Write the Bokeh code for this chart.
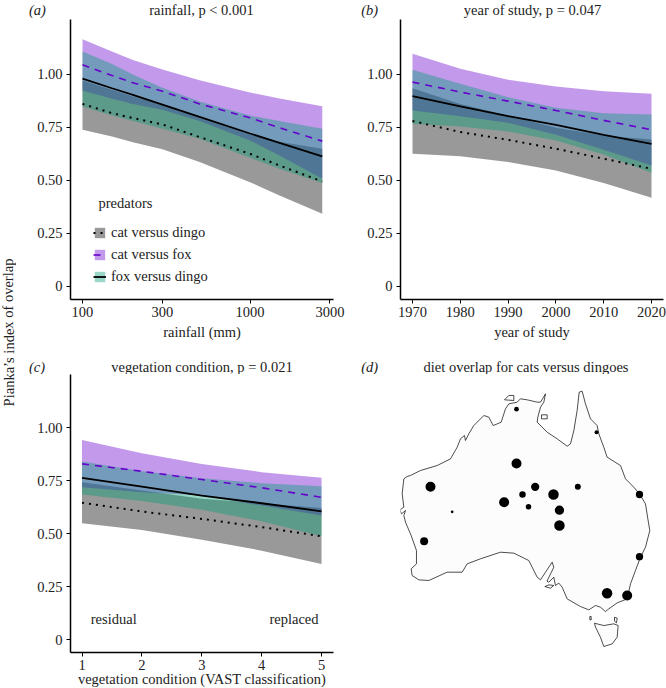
from bokeh.plotting import figure
from bokeh.layouts import row, column
from bokeh.models import Range1d, FixedTicker, Label, Legend, LegendItem, PrintfTickFormatter
from bokeh.core.properties import value
from bokeh.embed import file_html
from bokeh.resources import INLINE

FONT = "Liberation Serif"
FS = "14.5px"
GREY, PURPLE, GREEN = "#000000", "#6600CC", "#009E73"
series_names = ["cat versus dingo", "cat versus fox", "fox versus dingo"]
y_tick_values = [0, 0.25, 0.5, 0.75, 1.0]
y_tick_labels = ["0", "0.25", "0.50", "0.75", "1.00"]

# panel a
rain = [100, 150, 200, 300, 500, 1000, 1500, 2700]
rain_ticks = [100, 300, 1000, 3000]
a_dingo_lo = [.739, .707, .680, .646, .586, .491, .428, .342]
a_dingo_hi = [.972, .928, .896, .858, .803, .717, .682, .649]
a_dingo_mid = [.861, .817, .794, .764, .704, .625, .570, .494]
a_fox_lo = [.924, .885, .861, .833, .780, .688, .617, .507]
a_fox_hi = [1.167, 1.109, 1.069, 1.024, .973, .915, .887, .850]
a_fox_mid = [1.046, .995, .961, .921, .861, .795, .748, .685]
a_fd_lo = [.849, .806, .780, .743, .696, .606, .554, .487]
a_fd_hi = [1.109, 1.050, 1.000, .937, .872, .806, .780, .743]
a_fd_mid = [.980, .935, .904, .858, .800, .721, .677, .613]

# panel b
year = [1970, 1980, 1990, 2000, 2010, 2020]
year_ticks = [1970, 1980, 1990, 2000, 2010, 2020]
b_dingo_lo = [.625, .613, .586, .546, .487, .417]
b_dingo_hi = [.935, .861, .806, .748, .712, .693]
b_dingo_mid = [.780, .728, .691, .649, .602, .554]
b_fox_lo = [.830, .803, .772, .715, .644, .570]
b_fox_hi = [1.098, 1.027, .975, .943, .921, .909]
b_fox_mid = [.964, .917, .874, .830, .783, .739]
b_fd_lo = [.767, .754, .731, .688, .622, .535]
b_fd_hi = [1.022, .956, .893, .843, .817, .811]
b_fd_mid = [.898, .849, .803, .762, .715, .672]

# panel c
veg = [1, 2, 3, 4, 5]
c_dingo_lo = [.550, .518, .471, .420, .357]
c_dingo_hi = [.743, .704, .665, .644, .622]
c_dingo_mid = [.646, .605, .570, .531, .488]
c_fox_lo = [.720, .696, .680, .633, .586]
c_fox_hi = [.943, .880, .830, .791, .764]
c_fox_mid = [.830, .795, .756, .717, .672]
c_fd_lo = [.685, .654, .613, .559, .488]
c_fd_hi = [.841, .795, .762, .739, .724]
c_fd_mid = [.764, .723, .680, .644, .606]

# panel d: coast (lon, lat) and sites
main_lon = [113.85,114.39,114.92,116.54,119.23,121.39,122.47,123.0,123.65,123.81,124.35,125.16,126.78,127.59,128.29,128.93,129.58,130.28,130.82,132.17,132.7,133.78,135.4,135.94,136.75,136.48,135.94,135.51,135.4,137.02,138.63,140.25,140.79,141.33,141.86,142.19,142.67,143.21,144.02,145.09,145.37,146.17,146.71,148.87,149.68,151.02,151.94,152.91,153.29,153.61,152.91,152.1,151.29,150.49,149.95,148.33,146.98,146.44,145.63,144.83,143.75,142.4,140.25,139.44,138.9,138.36,138.09,137.28,136.98,138.09,137.82,136.75,135.94,135.4,134.05,131.63,129.47,126.24,124.08,123.28,120.85,117.89,116.27,115.19,115.03,115.89,115.89,115.03,114.12,113.85,114.12,113.47,113.2,113.85,113.58]
main_lat = [-22.07,-21.77,-21.64,-21.0,-20.36,-19.5,-18.0,-16.92,-16.49,-17.14,-16.28,-15.21,-13.92,-14.13,-15.21,-15.0,-14.78,-13.06,-12.42,-12.2,-11.77,-11.9,-12.2,-12.2,-11.13,-12.2,-12.85,-14.13,-14.78,-16.07,-16.92,-17.87,-17.57,-15.85,-13.28,-10.91,-10.79,-12.42,-14.35,-15.21,-16.28,-18.0,-19.28,-20.36,-22.07,-23.15,-24.0,-25.29,-27.22,-28.73,-30.87,-32.16,-33.88,-35.59,-37.53,-38.04,-38.81,-39.16,-38.6,-38.38,-38.94,-38.51,-37.53,-36.02,-35.5,-35.8,-34.73,-35.38,-35.25,-33.45,-32.8,-34.09,-35.08,-34.74,-32.59,-31.64,-31.52,-32.37,-33.02,-34.09,-34.09,-35.16,-35.08,-34.52,-33.66,-33.02,-31.3,-29.37,-27.65,-26.8,-26.15,-26.58,-26.07,-25.72,-24.0]
tas_lon = [144.67,146.17,147.79,148.49,148.33,147.52,146.17,145.63,144.83]
tas_lat = [-40.66,-40.96,-40.74,-40.96,-42.46,-43.32,-43.66,-42.46,-41.17]
kangaroo_lon, kangaroo_lat = [136.64,137.28,138.09,137.55], [-35.94,-35.72,-35.8,-36.15]
king_lon, king_lat = [143.91,144.13,144.13,143.91], [-39.8,-39.8,-40.23,-40.23]
flinders_lon, flinders_lat = [147.9,148.33,148.22,147.9], [-39.89,-40.01,-40.62,-40.4]
tiwi_lon, tiwi_lat = [130.12,130.82,131.63,131.63], [-11.9,-11.34,-11.34,-11.99]
groote_lon, groote_lat = [136.1,137.02,137.02,136.1], [-13.83,-13.83,-14.35,-14.35]
site_lon = [132.06,145.0,132.06,118.16,135.08,141.97,133.03,138.04,151.94,130.06,134.0,121.66,139.0,139.0,117.13,151.94,146.7,149.95]
site_lat = [-13.1,-16.06,-20.1,-23.1,-23.1,-23.1,-24.09,-24.09,-24.09,-25.08,-25.68,-26.32,-26.11,-28.08,-30.1,-32.1,-36.8,-37.1]
site_overlap = [.47,.40,1.0,1.0,.83,.60,.65,1.05,.73,1.0,.55,.27,.93,1.05,.80,.73,1.05,1.0]


def put_text(p, text, x, y, align="center", style="normal", angle=0):
    """x, y are offsets from the frame's lower-left corner, in pixels."""
    p.add_layout(Label(x=x, y=y, x_units="screen", y_units="screen",
                       text=text, text_font=FONT, text_font_size=FS, text_font_style=style,
                       text_align=align, text_baseline="middle", text_color="#222222", angle=angle))


def blank(width, height):
    b = figure(width=width, height=height, x_range=(0, 1), y_range=(0, 1), min_border=0,
               x_axis_location=None, y_axis_location=None, output_backend="svg",
               toolbar_location=None, outline_line_color=None)
    b.grid.visible = False
    return b


def panel(width, height, left, right, top, bottom, x_range, y_range, xlabel, xticks, **kw):
    p = figure(width=width, height=height, min_border_left=left, min_border_right=right,
               min_border_top=top, min_border_bottom=bottom,
               x_range=x_range, y_range=y_range, output_backend="svg", toolbar_location=None,
               background_fill_color="white", border_fill_color="white", outline_line_color=None, **kw)
    p.grid.visible = False
    p.yaxis.ticker = FixedTicker(ticks=y_tick_values)
    p.yaxis.major_label_overrides = dict(zip(y_tick_values, y_tick_labels))
    p.xaxis.ticker = FixedTicker(ticks=xticks)
    p.xaxis.formatter = PrintfTickFormatter(format="%d")
    p.xaxis.axis_label = xlabel
    for ax in (p.xaxis[0], p.yaxis[0]):
        ax.axis_line_width = 1.5
        ax.axis_line_color = "black"
        ax.major_tick_line_color = "black"
        ax.major_tick_line_width = 1
        ax.major_tick_in = 0
        ax.major_tick_out = 4
        ax.minor_tick_line_color = None
        ax.major_label_text_font = FONT
        ax.major_label_text_font_size = FS
        ax.major_label_text_color = "#222222"
        ax.axis_label_text_font = FONT
        ax.axis_label_text_font_size = FS
        ax.axis_label_text_font_style = "normal"
        ax.axis_label_text_color = "#222222"
    p.xaxis.major_label_standoff = 3
    p.xaxis.axis_label_standoff = 4
    p.yaxis.major_label_standoff = 4
    return p


def bands(p, x, d_lo, d_hi, d_mid, f_lo, f_hi, f_mid, g_lo, g_hi, g_mid):
    r1 = p.varea(x=x, y1=d_lo, y2=d_hi, fill_color=GREY, fill_alpha=0.4)
    r2 = p.varea(x=x, y1=f_lo, y2=f_hi, fill_color=PURPLE, fill_alpha=0.4)
    r3 = p.varea(x=x, y1=g_lo, y2=g_hi, fill_color=GREEN, fill_alpha=0.4)
    l1 = p.line(x, d_mid, line_color="black", line_width=2, line_dash="2 5")
    l2 = p.line(x, f_mid, line_color=PURPLE, line_width=1.6, line_dash="7 6")
    l3 = p.line(x, g_mid, line_color="black", line_width=1.8)
    return [[r1, l1], [r2, l2], [r3, l3]]


# y label strip
strip = blank(16, 692)
put_text(strip, "Pianka\u2019s index of overlap", 8, 356, angle=1.5708)

# header strips holding panel titles
head_top = blank(650, 19)
put_text(head_top, "(a)", 12.5, 10, align="left", style="italic")
put_text(head_top, "rainfall, p < 0.001", 185, 10)
put_text(head_top, "(b)", 344.7, 10, align="left", style="italic")
put_text(head_top, "year of study, p = 0.047", 516, 10)
head_mid = blank(650, 29)
put_text(head_mid, "(c)", 12.5, 7.5, align="left", style="italic")
put_text(head_mid, "vegetation condition, p = 0.021", 185.5, 7.5)
put_text(head_mid, "(d)", 344.7, 7.5, align="left", style="italic")
put_text(head_mid, "diet overlap for cats versus dingoes", 509.5, 7.5)

# (a)
pa = panel(329, 326, 54, 12, 0, 46, Range1d(84.8, 3151), Range1d(-0.0638, 1.26),
           "rainfall (mm)", rain_ticks, x_axis_type="log")
items = bands(pa, rain, a_dingo_lo, a_dingo_hi, a_dingo_mid, a_fox_lo, a_fox_hi, a_fox_mid,
              a_fd_lo, a_fd_hi, a_fd_mid)
legend = Legend(items=[LegendItem(label=n, renderers=r) for n, r in zip(series_names, items)],
                location=(23, 14), orientation="vertical", glyph_width=13, glyph_height=13,
                spacing=5, padding=0, margin=0, background_fill_alpha=0, border_line_color=None,
                label_text_font=FONT, label_text_font_size=FS, label_text_color="#222222",
                label_standoff=5, label_height=13)
pa.add_layout(legend)
put_text(pa, "predators", 28, 97, align="left")

# (b)
pb = panel(321, 326, 55, 3, 0, 46, Range1d(1967.49, 2022.51), Range1d(-0.0638, 1.26),
           "year of study", year_ticks)
bands(pb, year, b_dingo_lo, b_dingo_hi, b_dingo_mid, b_fox_lo, b_fox_hi, b_fox_mid,
      b_fd_lo, b_fd_hi, b_fd_mid)

# (c)
pc = panel(329, 318, 54, 12, 0, 40, Range1d(0.8075, 5.2), Range1d(-0.0614, 1.2524),
           "vegetation condition (VAST classification)", veg)
pc.xaxis.major_label_standoff = 3
pc.xaxis.axis_label_standoff = -2
bands(pc, veg, c_dingo_lo, c_dingo_hi, c_dingo_mid, c_fox_lo, c_fox_hi, c_fox_mid,
      c_fd_lo, c_fd_hi, c_fd_mid)
pc.text(x=[1.146], y=[0.099], text=["residual"], text_font=value(FONT), text_font_size=FS,
        text_align="left", text_baseline="middle", text_color="#222222")
pc.text(x=[4.95], y=[0.099], text=["replaced"], text_font=value(FONT), text_font_size=FS,
        text_align="right", text_baseline="middle", text_color="#222222")

# (d)
pd = figure(width=321, height=318, x_range=Range1d(113.31, 155.82), y_range=Range1d(-44.43, -8.64),
            min_border_left=55, min_border_right=3, min_border_top=0, min_border_bottom=40,
            x_axis_location=None, y_axis_location=None, output_backend="svg",
            toolbar_location=None, outline_line_color=None)
pd.grid.visible = False
pd.patches([main_lon, tas_lon, kangaroo_lon, king_lon, flinders_lon, tiwi_lon, groote_lon],
           [main_lat, tas_lat, kangaroo_lat, king_lat, flinders_lat, tiwi_lat, groote_lat],
           fill_color="#fcfcfc", line_color="black", line_width=0.7)
pd.scatter(site_lon, site_lat, size=[v * 10 for v in site_overlap], color="black", line_color=None)

root = row(strip,
           column(head_top, row(pa, pb, spacing=0), head_mid, row(pc, pd, spacing=0), spacing=0),
           spacing=0,
           styles={"position": "absolute", "left": "0", "top": "0", "height": "688px", "overflow": "hidden"})
open("out.html", "w").write(file_html(root, INLINE))
